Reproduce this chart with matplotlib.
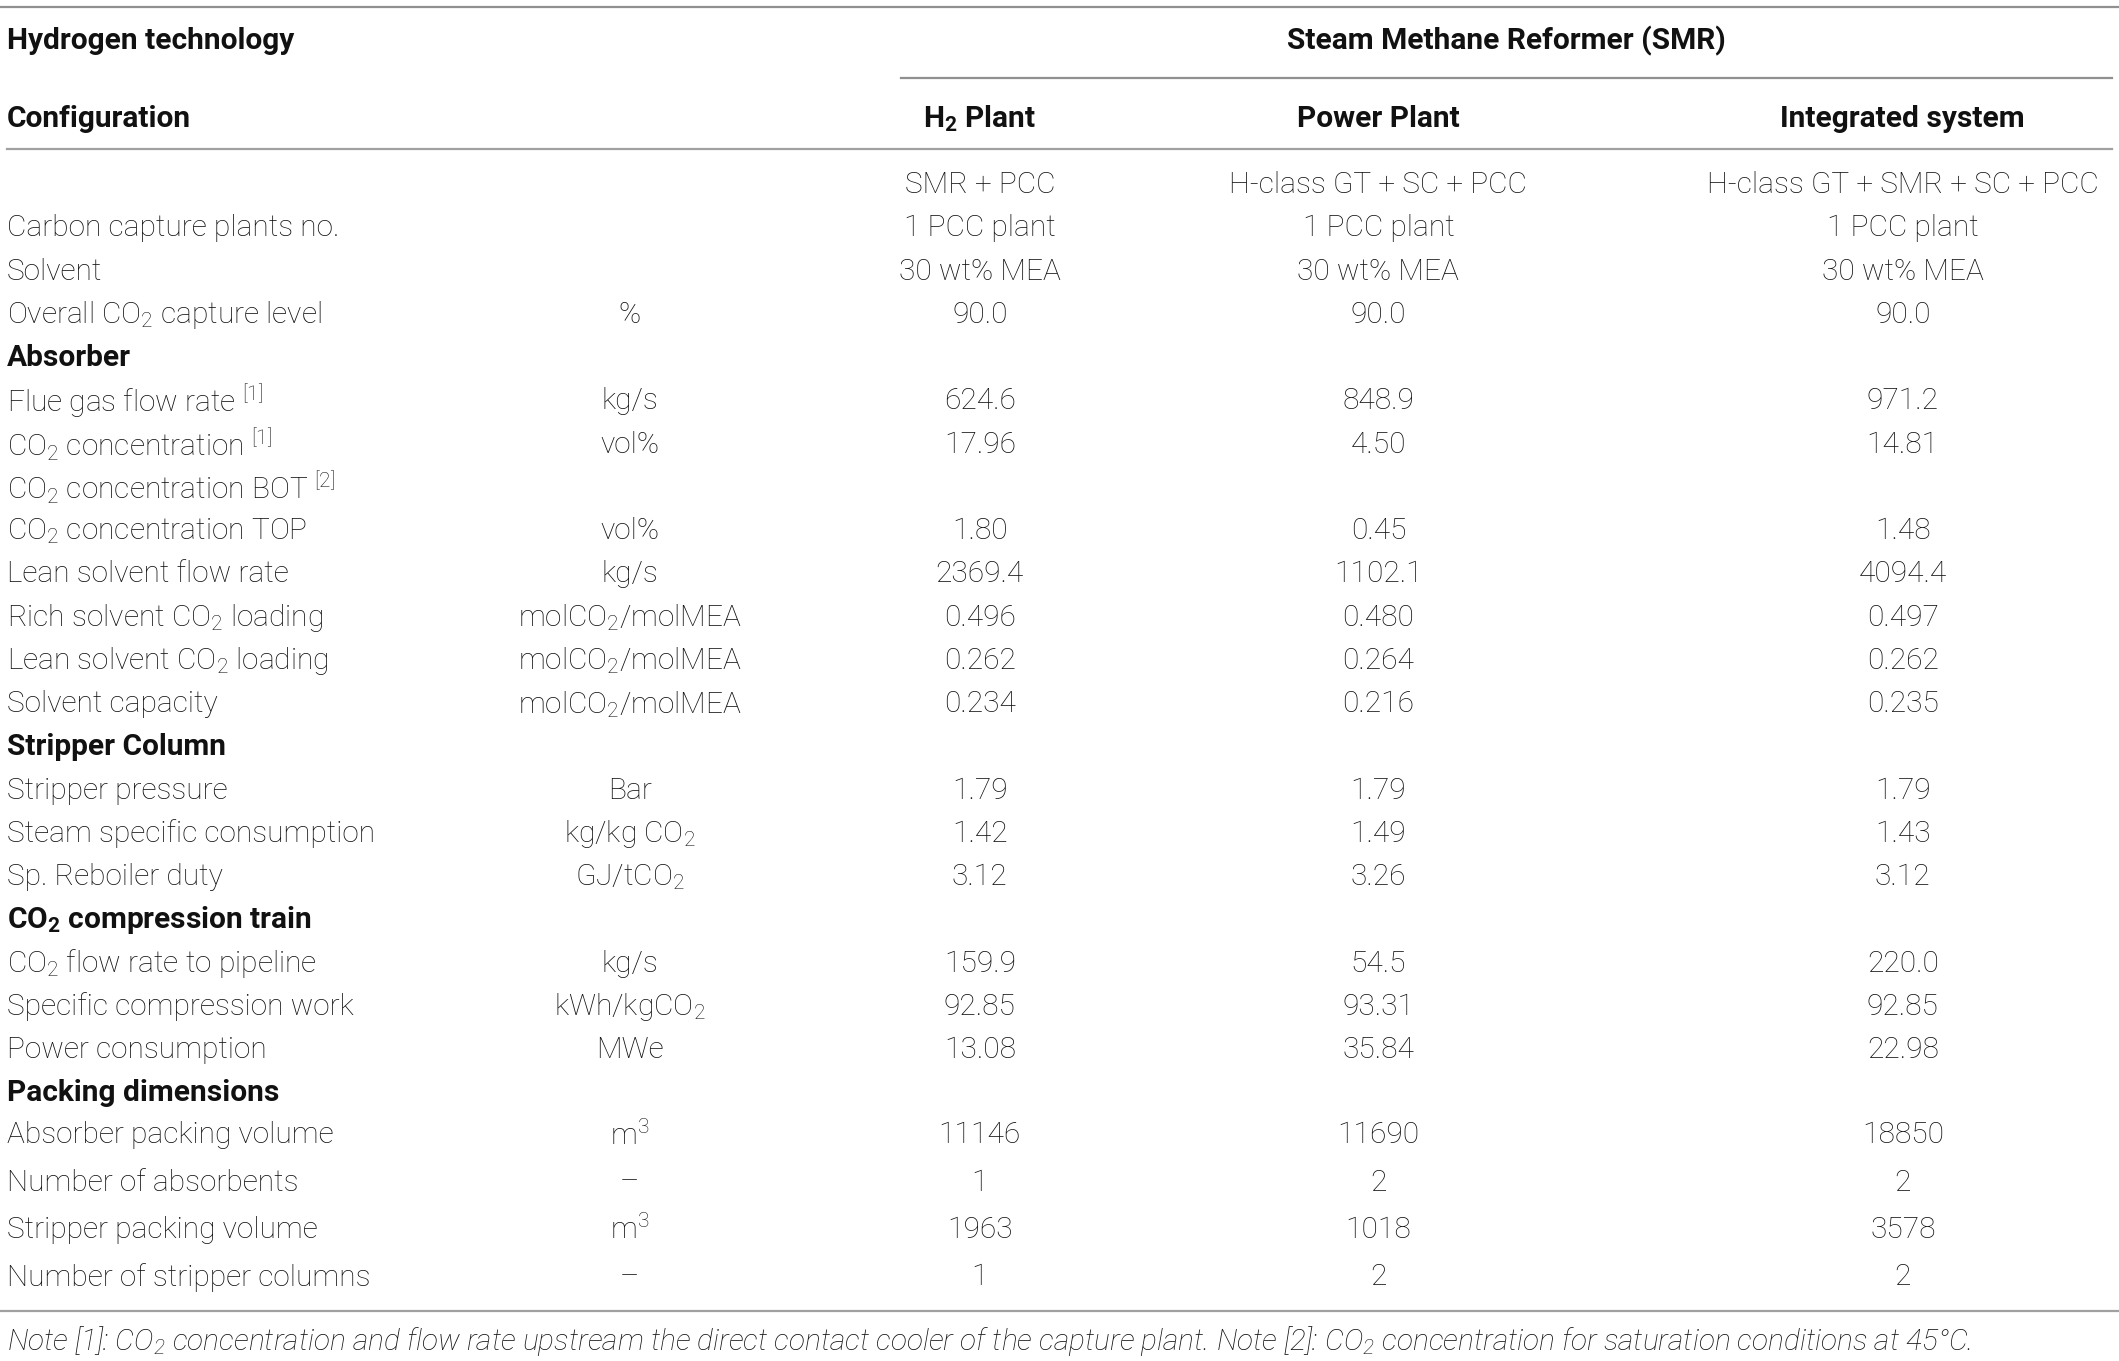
import matplotlib
matplotlib.use("Agg")
import matplotlib.pyplot as plt

# ---------------- data ----------------
top_group = "Steam Methane Reformer (SMR)"
col_headers = [r"H$\mathregular{_2}$ Plant", "Power Plant", "Integrated system"]

row_labels = [
    "", "Carbon capture plants no.", "Solvent", r"Overall CO$\mathregular{_2}$ capture level",
    "Absorber",
    r"Flue gas flow rate $\mathregular{^{[1]}}$", r"CO$\mathregular{_2}$ concentration $\mathregular{^{[1]}}$",
    r"CO$\mathregular{_2}$ concentration BOT $\mathregular{^{[2]}}$", r"CO$\mathregular{_2}$ concentration TOP",
    "Lean solvent flow rate", r"Rich solvent CO$\mathregular{_2}$ loading", r"Lean solvent CO$\mathregular{_2}$ loading",
    "Solvent capacity",
    "Stripper Column",
    "Stripper pressure", "Steam specific consumption", "Sp. Reboiler duty",
    r"CO$\mathregular{_2}$ compression train",
    r"CO$\mathregular{_2}$ flow rate to pipeline", "Specific compression work", "Power consumption",
    "Packing dimensions",
    "Absorber packing volume", "Number of absorbents", "Stripper packing volume", "Number of stripper columns",
]
section_rows = {"Absorber", "Stripper Column", r"CO$\mathregular{_2}$ compression train", "Packing dimensions"}

units = [
    "", "", "", "%",
    "",
    "kg/s", "vol%", "", "vol%", "kg/s",
    r"molCO$\mathregular{_2}$/molMEA", r"molCO$\mathregular{_2}$/molMEA", r"molCO$\mathregular{_2}$/molMEA",
    "",
    "Bar", r"kg/kg CO$\mathregular{_2}$", r"GJ/tCO$\mathregular{_2}$",
    "",
    "kg/s", r"kWh/kgCO$\mathregular{_2}$", "MWe",
    "",
    r"m$\mathregular{^3}$", "\u2013", r"m$\mathregular{^3}$", "\u2013",
]

h2_plant = [
    "SMR + PCC", "1 PCC plant", "30 wt% MEA", "90.0",
    "",
    "624.6", "17.96", "", "1.80", "2369.4", "0.496", "0.262", "0.234",
    "",
    "1.79", "1.42", "3.12",
    "",
    "159.9", "92.85", "13.08",
    "",
    "11146", "1", "1963", "1",
]
power_plant = [
    "H-class GT + SC + PCC", "1 PCC plant", "30 wt% MEA", "90.0",
    "",
    "848.9", "4.50", "", "0.45", "1102.1", "0.480", "0.264", "0.216",
    "",
    "1.79", "1.49", "3.26",
    "",
    "54.5", "93.31", "35.84",
    "",
    "11690", "2", "1018", "2",
]
integrated = [
    "H-class GT + SMR + SC + PCC", "1 PCC plant", "30 wt% MEA", "90.0",
    "",
    "971.2", "14.81", "", "1.48", "4094.4", "0.497", "0.262", "0.235",
    "",
    "1.79", "1.43", "3.12",
    "",
    "220.0", "92.85", "22.98",
    "",
    "18850", "2", "3578", "2",
]

note = (r"Note [1]: CO$\mathregular{_2}$ concentration and flow rate upstream the direct contact cooler "
        r"of the capture plant. Note [2]: CO$\mathregular{_2}$ concentration for saturation conditions at 45°C.")

# ---------------- layout ----------------
W, H = 1568, 1007
fig = plt.figure(figsize=(21.19, 13.61), dpi=100)
ax = fig.add_axes([0, 0, 1, 1])
ax.set_xlim(0, W)
ax.set_ylim(H, 0)
ax.axis("off")

plt.rcParams["mathtext.fontset"] = "custom"
FAM = ["Roboto", "DejaVu Sans"]
FS = 21.5
txt_color = "#111111"
reg = dict(family=FAM, fontsize=FS, weight="light", color=txt_color, va="center")
bold = dict(family=FAM, fontsize=FS, weight="bold", color=txt_color, va="center")

x_label = 5
x_unit = 466
x_cols = [725, 1020, 1408]

line_c = "#a0a0a0"
ax.plot([0, W], [5, 5], color="#909090", lw=1.6)
ax.plot([667, 1563], [58, 58], color="#909090", lw=1.6)
ax.plot([5, 1563], [110, 110], color=line_c, lw=1.6)
ax.plot([0, W], [970, 970], color=line_c, lw=1.6)

ax.text(x_label, 30, "Hydrogen technology", ha="left", **bold)
ax.text(1115, 30, top_group, ha="center", **bold)
ax.text(x_label, 88, "Configuration", ha="left", **bold)
for x, h in zip(x_cols, col_headers):
    ax.text(x, 88, h, ha="center", **bold)

y = 137
for i, lab in enumerate(row_labels):
    if i > 0:
        y += 32 if i <= 21 else (31 if i == 22 else 35)
    style = bold if lab in section_rows else reg
    if lab:
        ax.text(x_label, y, lab, ha="left", **style)
    if units[i]:
        ax.text(x_unit, y, units[i], ha="center", **reg)
    for x, col in zip(x_cols, (h2_plant, power_plant, integrated)):
        if col[i]:
            ax.text(x, y, col[i], ha="center", **reg)

ax.text(x_label, 992, note, ha="left", style="italic", **reg)

fig.savefig("out.png", dpi=100)
